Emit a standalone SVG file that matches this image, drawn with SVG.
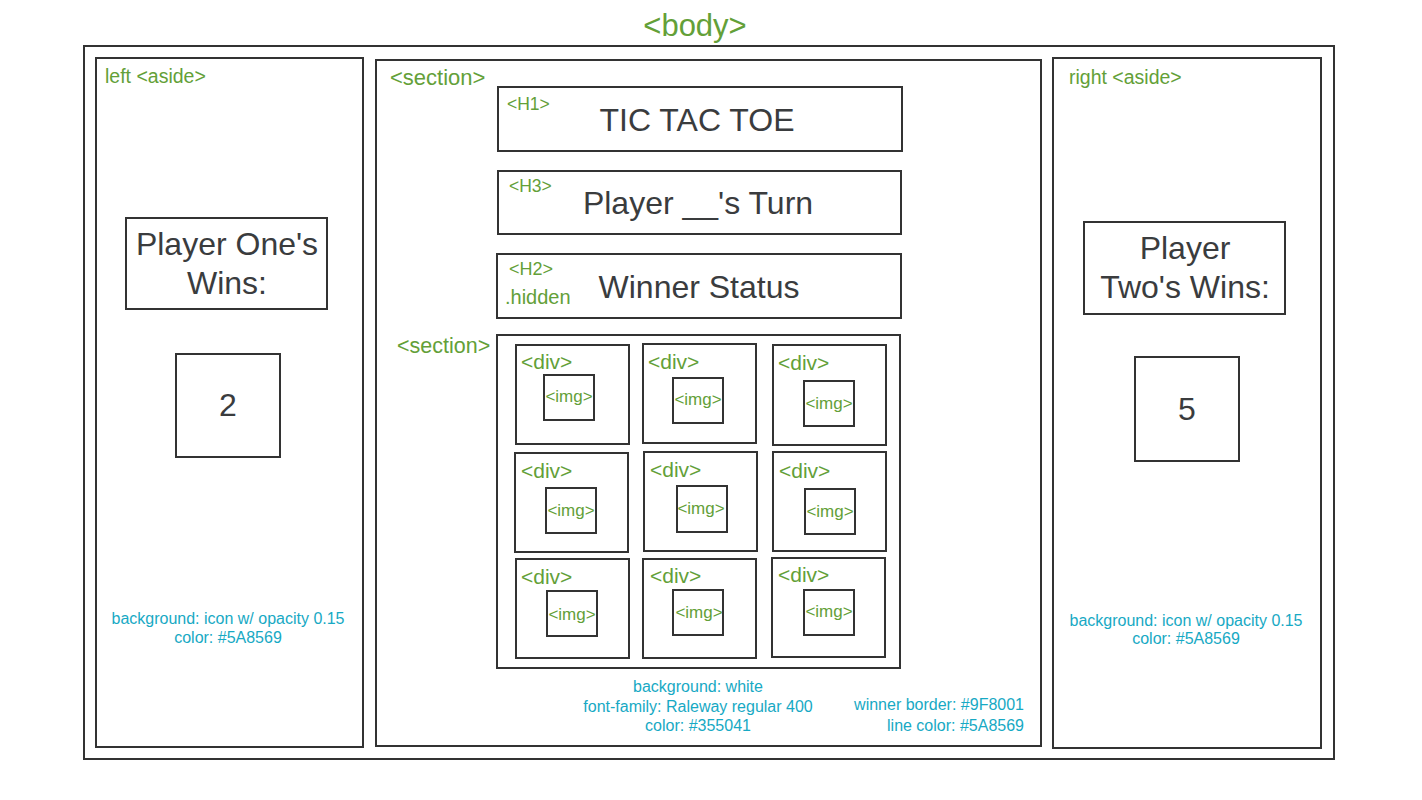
<svg xmlns="http://www.w3.org/2000/svg" width="1422" height="800" viewBox="0 0 1422 800">
<style>
  .box { fill: none; stroke: #333333; stroke-width: 2; }
  .main { font-family: "Liberation Sans", Arial, sans-serif; font-size: 32px; fill: #3a3c3e; text-anchor: middle; }
  .tag { font-family: "Liberation Sans", Arial, sans-serif; fill: #63a038; }
  .note { font-family: "Liberation Sans", Arial, sans-serif; font-size: 16px; fill: #17a9c4; text-anchor: middle; }
  .note.end { text-anchor: end; }
  .div { font-size: 21px; }
  .img { font-size: 17px; text-anchor: middle; }
</style>
<rect width="1422" height="800" fill="#ffffff"/>

<g id="body">
  <rect class="box" x="84" y="46" width="1250" height="713"/>
  <text class="tag" x="695" y="36" font-size="31" text-anchor="middle">&lt;body&gt;</text>
</g>

<g id="left-aside">
  <rect class="box" x="96" y="58" width="267" height="689"/>
  <text class="tag" x="105" y="83" font-size="19.5">left &lt;aside&gt;</text>
  <text class="note" x="228" y="624">background: icon w/ opacity 0.15</text>
  <text class="note" x="228" y="643">color: #5A8569</text>
</g>
<g id="player-one-label">
  <rect class="box" x="126" y="218" width="201" height="91"/>
  <text class="main" x="227" y="255">Player One's</text>
  <text class="main" x="227" y="294">Wins:</text>
</g>
<g id="player-one-score">
  <rect class="box" x="176" y="354" width="104" height="103"/>
  <text class="main" x="228" y="416">2</text>
</g>

<g id="main-section">
  <rect class="box" x="376" y="60" width="665" height="686"/>
  <text class="tag" x="390" y="85" font-size="22">&lt;section&gt;</text>
  <text class="note" x="698" y="692">background: white</text>
  <text class="note" x="698" y="712">font-family: Raleway regular 400</text>
  <text class="note" x="698" y="731">color: #355041</text>
  <text class="note end" x="1024" y="710">winner border: #9F8001</text>
  <text class="note end" x="1024" y="731">line color: #5A8569</text>
</g>
<g id="h1">
  <rect class="box" x="498" y="87" width="404" height="64"/>
  <text class="tag" x="507" y="110" font-size="17.5">&lt;H1&gt;</text>
  <text class="main" x="697" y="131">TIC TAC TOE</text>
</g>
<g id="h3">
  <rect class="box" x="498" y="171" width="403" height="63"/>
  <text class="tag" x="509" y="192" font-size="17.5">&lt;H3&gt;</text>
  <text class="main" x="698" y="214">Player __'s Turn</text>
</g>
<g id="h2">
  <rect class="box" x="497" y="254" width="404" height="64"/>
  <text class="tag" x="509" y="275" font-size="18">&lt;H2&gt;</text>
  <text class="tag" x="505" y="304" font-size="20">.hidden</text>
  <text class="main" x="699" y="298">Winner Status</text>
</g>

<g id="board-section">
  <rect class="box" x="497" y="335" width="403" height="333"/>
  <text class="tag" x="397" y="353" font-size="21.5">&lt;section&gt;</text>
</g>

<g id="cell-1" class="tag">
  <rect class="box" x="516" y="345" width="113" height="99"/>
  <text class="div" x="521" y="369">&lt;div&gt;</text>
  <rect class="box" x="544" y="375" width="50" height="45"/>
  <text class="img" x="569" y="402">&lt;img&gt;</text>
</g>
<g id="cell-2" class="tag">
  <rect class="box" x="643" y="344" width="113" height="99"/>
  <text class="div" x="648" y="369">&lt;div&gt;</text>
  <rect class="box" x="673" y="378" width="50" height="45"/>
  <text class="img" x="698" y="405">&lt;img&gt;</text>
</g>
<g id="cell-3" class="tag">
  <rect class="box" x="773" y="345" width="113" height="100"/>
  <text class="div" x="778" y="370">&lt;div&gt;</text>
  <rect class="box" x="804" y="381" width="50" height="45"/>
  <text class="img" x="829" y="409">&lt;img&gt;</text>
</g>
<g id="cell-4" class="tag">
  <rect class="box" x="515" y="453" width="113" height="99"/>
  <text class="div" x="521" y="478">&lt;div&gt;</text>
  <rect class="box" x="546" y="488" width="50" height="45"/>
  <text class="img" x="571" y="516">&lt;img&gt;</text>
</g>
<g id="cell-5" class="tag">
  <rect class="box" x="644" y="452" width="113" height="99"/>
  <text class="div" x="650" y="477">&lt;div&gt;</text>
  <rect class="box" x="677" y="486" width="50" height="46"/>
  <text class="img" x="701" y="514">&lt;img&gt;</text>
</g>
<g id="cell-6" class="tag">
  <rect class="box" x="773" y="452" width="113" height="99"/>
  <text class="div" x="779" y="478">&lt;div&gt;</text>
  <rect class="box" x="805" y="489" width="50" height="45"/>
  <text class="img" x="830" y="517">&lt;img&gt;</text>
</g>
<g id="cell-7" class="tag">
  <rect class="box" x="516" y="559" width="113" height="99"/>
  <text class="div" x="521" y="584">&lt;div&gt;</text>
  <rect class="box" x="547" y="591" width="50" height="45"/>
  <text class="img" x="572" y="620">&lt;img&gt;</text>
</g>
<g id="cell-8" class="tag">
  <rect class="box" x="643" y="559" width="113" height="99"/>
  <text class="div" x="650" y="583">&lt;div&gt;</text>
  <rect class="box" x="673" y="590" width="50" height="45"/>
  <text class="img" x="699" y="618">&lt;img&gt;</text>
</g>
<g id="cell-9" class="tag">
  <rect class="box" x="772" y="558" width="113" height="99"/>
  <text class="div" x="778" y="582">&lt;div&gt;</text>
  <rect class="box" x="804" y="590" width="50" height="45"/>
  <text class="img" x="829" y="617">&lt;img&gt;</text>
</g>

<g id="right-aside">
  <rect class="box" x="1053" y="58" width="268" height="690"/>
  <text class="tag" x="1069" y="84" font-size="19.5">right &lt;aside&gt;</text>
  <text class="note" x="1186" y="626">background: icon w/ opacity 0.15</text>
  <text class="note" x="1186" y="644">color: #5A8569</text>
</g>
<g id="player-two-label">
  <rect class="box" x="1084" y="222" width="201" height="92"/>
  <text class="main" x="1185" y="259">Player</text>
  <text class="main" x="1185" y="298">Two's Wins:</text>
</g>
<g id="player-two-score">
  <rect class="box" x="1135" y="357" width="104" height="104"/>
  <text class="main" x="1187" y="420">5</text>
</g>

<g id="connectors"></g>
</svg>
